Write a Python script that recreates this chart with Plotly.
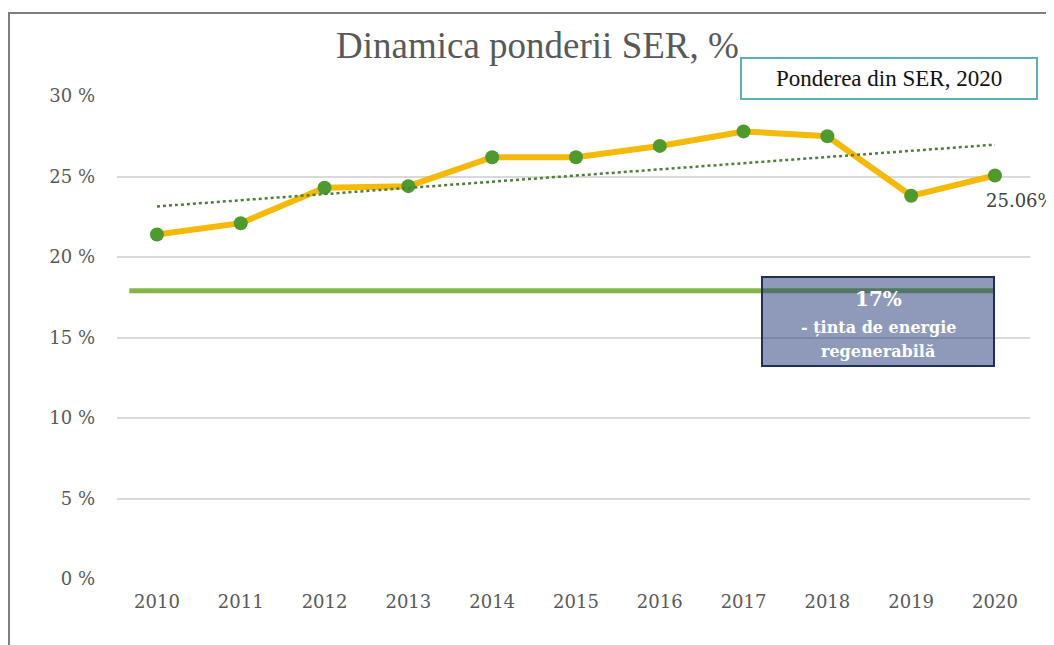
import numpy as np
import plotly.graph_objects as go

years = [2010, 2011, 2012, 2013, 2014, 2015, 2016, 2017, 2018, 2019, 2020]
ser_share = [21.4, 22.1, 24.3, 24.4, 26.2, 26.2, 26.9, 27.8, 27.5, 23.8, 25.06]
target_value = 17.9
y_ticks = [0, 5, 10, 15, 20, 25, 30]
y_tick_labels = ["0 %", "5 %", "10 %", "15 %", "20 %", "25 %", "30 %"]
last_label = "25.06%"

# linear trend (as in Excel trendline)
coef = np.polyfit(years, ser_share, 1)
trend = [coef[0] * x + coef[1] for x in years]

SERIF = "DejaVu Serif, serif"
TITLE_FONT = "Liberation Serif, Times New Roman, serif"

# page offset (body margin) and plot area in figure pixels
OFF = 8
L, W, T, H = 109, 913, 88, 483


def px(xs):
    return (xs - OFF - L) / W


def py(ys):
    return (T + H - (ys - OFF)) / H


fig = go.Figure()

fig.add_trace(go.Scatter(
    x=years, y=ser_share, mode="lines+markers",
    line=dict(color="#F5B90A", width=6),
    marker=dict(color="#4F9A2F", size=14),
    showlegend=False, hoverinfo="x+y", cliponaxis=False,
))
fig.add_trace(go.Scatter(
    x=years, y=trend, mode="lines",
    line=dict(color="#4E7E3A", width=2.5, dash="dot"),
    showlegend=False, hoverinfo="skip",
))

shapes = [
    dict(type="line", xref="x", yref="y", x0=years[0] - 0.33, x1=years[-1] - 0.02,
         y0=target_value, y1=target_value,
         line=dict(color="#84B44A", width=5), layer="above"),
    dict(type="rect", xref="paper", yref="paper", x0=px(762), x1=px(994), y0=py(366), y1=py(277),
         fillcolor="rgba(40,62,125,0.52)", line=dict(color="#1F2F5C", width=2), layer="above"),
    dict(type="rect", xref="paper", yref="paper", x0=px(741), x1=px(1037),
         y0=py(99), y1=py(58),
         fillcolor="white", line=dict(color="#5AAFB8", width=2), layer="above"),
    dict(type="rect", xref="paper", yref="paper", x0=px(9), x1=px(1080),
         y0=py(680), y1=py(13),
         fillcolor="rgba(0,0,0,0)", line=dict(color="#7F7F7F", width=2), layer="below"),
]

annotations = [
    dict(text="Dinamica ponderii SER, %", xref="paper", yref="paper",
         x=px(537), y=py(46), showarrow=False,
         font=dict(family=TITLE_FONT, size=37, color="#595959"), xanchor="center", yanchor="middle"),
    dict(text="Ponderea din SER, 2020", xref="paper", yref="paper",
         x=px(889), y=py(79), showarrow=False,
         font=dict(family=TITLE_FONT, size=23, color="#111111"), xanchor="center", yanchor="middle"),
    dict(text="<b>17%</b>", xref="paper", yref="paper", x=px(878), y=py(299), showarrow=False,
         font=dict(family=SERIF, size=20, color="white"), xanchor="center", yanchor="middle"),
    dict(text="<b>- ținta de energie</b>", xref="paper", yref="paper", x=px(878), y=py(327),
         showarrow=False, font=dict(family=SERIF, size=16, color="white"),
         xanchor="center", yanchor="middle"),
    dict(text="<b>regenerabilă</b>", xref="paper", yref="paper", x=px(878), y=py(351),
         showarrow=False, font=dict(family=SERIF, size=16, color="white"),
         xanchor="center", yanchor="middle"),
    dict(text=last_label, xref="x", yref="y", x=years[-1], y=ser_share[-1], showarrow=False,
         xanchor="left", yanchor="middle", xshift=-11, yshift=-25,
         font=dict(family=SERIF, size=18, color="#404040")),
]

fig.update_layout(
    width=1054, height=645,
    margin=dict(l=L, r=1054 - L - W, t=T, b=645 - T - H),
    paper_bgcolor="white", plot_bgcolor="white",
    shapes=shapes, annotations=annotations,
    showlegend=False,
)
fig.update_xaxes(
    range=[2009.523, 2020.418], tickmode="array", tickvals=years,
    ticktext=[str(y) for y in years], showgrid=False, zeroline=False, showline=False,
    tickfont=dict(family=SERIF, size=18, color="#595959"), ticklabelstandoff=10,
)
fig.update_yaxes(
    range=[0, 30], tickmode="array", tickvals=y_ticks, ticktext=y_tick_labels,
    showgrid=True, gridcolor="#D9D9D9", gridwidth=1.5, zeroline=False, showline=False,
    tickfont=dict(family=SERIF, size=18, color="#595959"), ticklabelstandoff=21,
)

fig.write_html("out.html")
